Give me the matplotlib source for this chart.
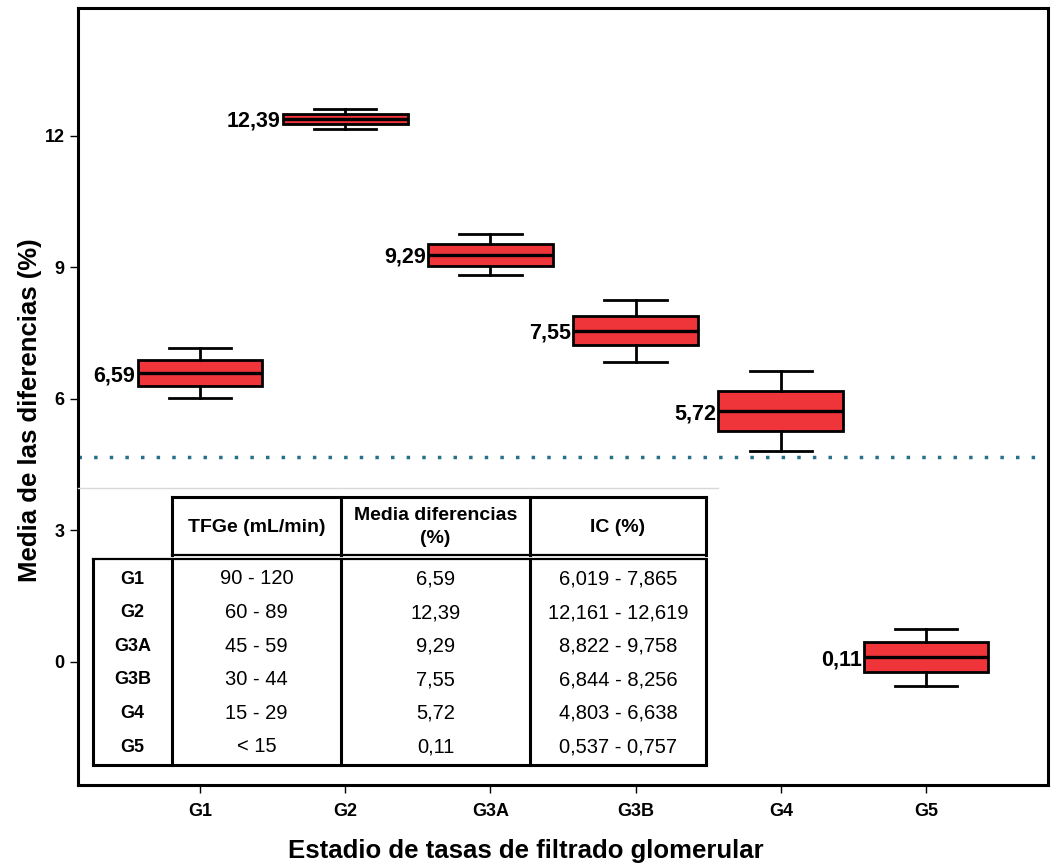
import matplotlib.pyplot as plt
from matplotlib.lines import Line2D

plt.rcParams["font.family"] = ["Liberation Sans", "DejaVu Sans"]

groups = ["G1", "G2", "G3A", "G3B", "G4", "G5"]
means = [6.59, 12.39, 9.29, 7.55, 5.72, 0.11]
box_low = [6.30, 12.27, 9.04, 7.22, 5.26, -0.24]
box_high = [6.88, 12.51, 9.54, 7.90, 6.18, 0.45]
whisk_low = [6.02, 12.16, 8.82, 6.84, 4.80, -0.54]
whisk_high = [7.17, 12.62, 9.76, 8.26, 6.64, 0.76]
ref_line = 4.67

# table contents
tfge = ["90 - 120", "60 - 89", "45 - 59", "30 - 44", "15 - 29", "< 15"]
ic = ["6,019 - 7,865", "12,161 - 12,619", "8,822 - 9,758",
      "6,844 - 8,256", "4,803 - 6,638", "0,537 - 0,757"]
headers = ["TFGe (mL/min)", "Media diferencias\n(%)", "IC (%)"]


def fmt(v):
    return f"{v:.2f}".replace(".", ",")


W, H = 1053, 866
fig = plt.figure(figsize=(W / 100, H / 100), dpi=100)
ax = fig.add_axes([78 / W, 1 - 785 / H, 970 / W, 777 / H])

pos = list(range(1, len(groups) + 1))
ax.bxp(
    [
        {"med": m, "q1": lo, "q3": hi, "whislo": wl, "whishi": wh, "fliers": []}
        for m, lo, hi, wl, wh in zip(means, box_low, box_high, whisk_low, whisk_high)
    ],
    positions=pos,
    widths=0.86,
    patch_artist=True,
    boxprops=dict(facecolor="#ef343a", edgecolor="black", linewidth=2.0),
    medianprops=dict(color="black", linewidth=2.4),
    whiskerprops=dict(color="black", linewidth=2.0),
    capprops=dict(color="black", linewidth=2.0),
    capwidths=0.43,
)

for p, m in zip(pos, means):
    ax.annotate(fmt(m), (p - 0.43, m), xytext=(-1.5, 0), textcoords="offset points",
                ha="right", va="center_baseline", fontsize=15.5, fontweight="bold")

ax.axhline(ref_line, color="#27708a", linewidth=2.5, linestyle=(0, (1, 3.5)))

ax.set_xlim(0.16, 6.84)
ax.set_ylim(-2.81, 14.92)
ax.set_xticks(pos)
ax.set_xticklabels(groups, fontsize=13, fontweight="bold")
ax.set_yticks([0, 3, 6, 9, 12])
ax.tick_params(axis="both", direction="out", length=6, width=1, labelsize=13)
ax.tick_params(axis="x", pad=7)
for lab in ax.get_yticklabels():
    lab.set_fontweight("bold")
for s in ax.spines.values():
    s.set_linewidth(2.2)
ax.set_xlabel("Estadio de tasas de filtrado glomerular", fontsize=18.5, fontweight="bold")
ax.set_ylabel("Media de las diferencias (%)", fontsize=18.5, fontweight="bold")
ax.xaxis.set_label_coords(0.462, -0.07)
ax.yaxis.set_label_coords(-0.037, 0.483)

# inset table drawn in pixel coordinates
tab = fig.add_axes([0, 0, 1, 1], facecolor="none")
tab.set_xlim(0, W)
tab.set_ylim(H, 0)
tab.axis("off")


def seg(x0, y0, x1, y1, lw=2.2, color="black"):
    tab.add_line(Line2D([x0, x1], [y0, y1], color=color, linewidth=lw,
                        solid_capstyle="projecting"))


seg(78, 488, 718, 488, lw=1.0, color="#d8d8d8")
left, c1, c2, c3, right = 93, 172, 341, 530, 706
top, hbot, btop, bot = 497, 555, 559, 765
seg(c1, top, right, top)
seg(c1, top, c1, hbot)
seg(c2, top, c2, hbot)
seg(c3, top, c3, hbot)
seg(right, top, right, hbot)
seg(c1, hbot, right, hbot, lw=1.6)
seg(left, btop, right, btop, lw=1.6)
seg(left, btop, left, bot)
seg(right, btop, right, bot)
seg(left, bot, right, bot)
for cx in (c1, c2, c3):
    seg(cx, btop, cx, bot)

for cx0, cx1, txt in zip((c1, c2, c3), (c2, c3, right), headers):
    tab.text((cx0 + cx1) / 2, (top + hbot) / 2 + 1, txt, ha="center", va="center",
             fontsize=14, fontweight="bold", linespacing=1.45)

n = len(groups)
row_y = [577 + i * (745 - 577) / (n - 1) for i in range(n)]
for y, g, t, m, c in zip(row_y, groups, tfge, means, ic):
    tab.text((left + c1) / 2, y, g, ha="center", va="center_baseline", fontsize=13, fontweight="bold")
    tab.text((c1 + c2) / 2, y, t, ha="center", va="center_baseline", fontsize=14.5)
    tab.text((c2 + c3) / 2, y, fmt(m), ha="center", va="center_baseline", fontsize=14.5)
    tab.text((c3 + right) / 2, y, c, ha="center", va="center_baseline", fontsize=14.5)

fig.savefig("out.png", dpi=100)
